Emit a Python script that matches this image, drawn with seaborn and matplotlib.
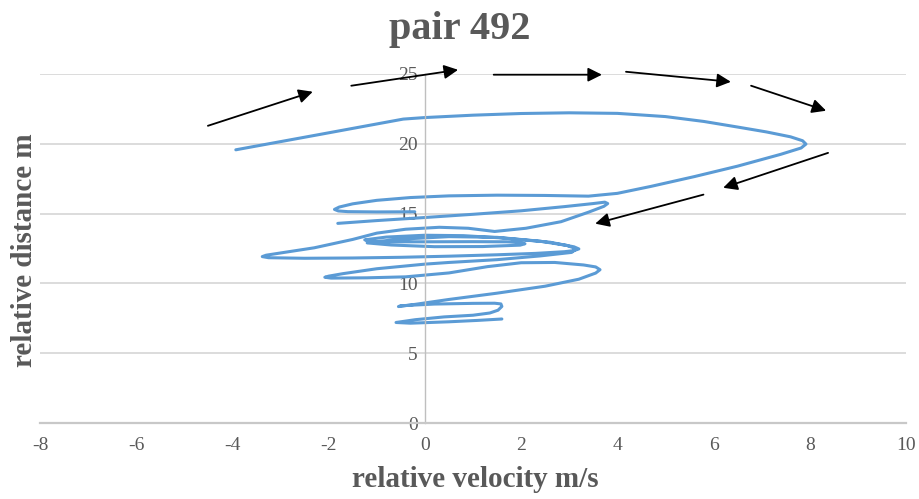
import matplotlib
matplotlib.use("Agg")
import matplotlib.pyplot as plt
import numpy as np
import pandas as pd
import seaborn as sns

# Relative velocity (m/s) and relative distance (m) of the vehicle pair,
# in time order. The trajectory is stored as two traced strokes.
velocity_a = [-3.93, -2.2, -0.45, 0.0, 1.0, 2.0, 3.0, 4.0, 5.0, 5.8, 6.5, 7.1, 7.6,
              7.85, 7.92, 7.82, 7.4, 6.5, 5.6, 4.7, 4.0, 3.4, 2.5, 1.5, 0.5, -0.3,
              -1.0, -1.5, -1.78, -1.88, -1.8, -1.6, -1.0, -0.21]
distance_a = [19.57, 20.66, 21.77, 21.88, 22.05, 22.17, 22.22, 22.18, 21.95, 21.6,
              21.2, 20.85, 20.5, 20.22, 19.98, 19.7, 19.25, 18.4, 17.65, 16.95, 16.45,
              16.25, 16.3, 16.32, 16.27, 16.15, 15.95, 15.7, 15.47, 15.3, 15.19,
              15.14, 15.12, 15.13]

velocity_b = [-1.81, -1.0, 0.0, 1.0, 2.0, 2.9, 3.5, 3.74, 3.8, 3.72, 3.4, 2.83, 2.1,
              1.45, 0.9, 0.3, -0.4, -1.0, -1.5, -2.3, -3.0, -3.3, -3.38, -3.25,
              -2.5, -1.5, -0.5, 0.5, 1.5, 2.3, 2.9, 3.1, 3.2, 3.1, 2.6, 1.58, 0.8,
              0.0, -0.8, -1.25, -1.1, 0.0, 1.0, 1.7, 1.98, 2.08, 1.98, 1.2, 0.2,
              -0.7, -1.2, -0.6, 0.5, 1.5, 2.4, 2.95, 3.15, 3.05, 2.4, 1.5, 0.5, 0.0,
              -1.0, -1.7, -2.0, -2.08, -1.95, -1.2, -0.4, 0.5, 1.3, 2.0, 2.7, 3.3,
              3.55, 3.64, 3.55, 3.2, 2.5, 1.5, 0.5, -0.2, -0.55, -0.5, 0.2, 1.0,
              1.45, 1.58, 1.6, 1.52, 1.35, 1.0, 0.4, -0.2, -0.6, -0.3, 0.5, 1.1, 1.6]
distance_b = [14.3, 14.5, 14.72, 14.95, 15.2, 15.5, 15.72, 15.82, 15.72, 15.52, 15.1,
              14.42, 13.95, 13.72, 13.95, 14.02, 13.88, 13.6, 13.15, 12.55, 12.18,
              12.02, 11.92, 11.84, 11.8, 11.82, 11.87, 11.95, 12.05, 12.15, 12.27,
              12.35, 12.47, 12.62, 12.95, 13.26, 13.42, 13.45, 13.32, 13.12, 12.98,
              12.98, 12.99, 12.98, 12.93, 12.84, 12.74, 12.64, 12.63, 12.75, 12.9,
              13.15, 13.35, 13.3, 13.02, 12.72, 12.48, 12.22, 11.97, 11.7, 11.5,
              11.38, 11.05, 10.7, 10.52, 10.44, 10.38, 10.4, 10.47, 10.75, 11.2,
              11.48, 11.5, 11.32, 11.18, 10.98, 10.74, 10.3, 9.8, 9.3, 8.85, 8.5,
              8.34, 8.4, 8.52, 8.57, 8.58, 8.53, 8.35, 8.08, 7.88, 7.72, 7.6, 7.4,
              7.2, 7.15, 7.25, 7.35, 7.45]

# Direction arrows drawn around the trajectory: (v0, d0) -> (v1, d1)
arrow_tail_v = [-4.51, -1.53, 1.43, 4.18, 6.78, 8.38, 5.79]
arrow_tail_d = [21.29, 24.16, 24.95, 25.16, 24.16, 19.35, 16.36]
arrow_head_v = [-2.33, 0.69, 3.68, 6.36, 8.34, 6.2, 3.54]
arrow_head_d = [23.73, 25.3, 24.95, 24.44, 22.37, 16.85, 14.28]

x_ticks = [-8, -6, -4, -2, 0, 2, 4, 6, 8, 10]
y_ticks = [0, 5, 10, 15, 20, 25]

traj = pd.DataFrame({
    "v": velocity_a + velocity_b,
    "d": distance_a + distance_b,
    "stroke": [0] * len(velocity_a) + [1] * len(velocity_b),
})

sns.set_theme(style="white")
plt.rcParams["font.family"] = ["Liberation Serif", "DejaVu Serif"]

text_grey = "#595959"
fig = plt.figure(figsize=(9.19, 4.99), dpi=100)
ax = fig.add_axes([40 / 919, 76 / 499, 866 / 919, 349 / 499])

line_kw = dict(solid_joinstyle="round", solid_capstyle="round")
sns.lineplot(data=traj, x="v", y="d", units="stroke", estimator=None, sort=False,
             color="#5B9BD5", lw=2.2, ax=ax, legend=False, **line_kw)

for tv, td, hv, hd in zip(arrow_tail_v, arrow_tail_d, arrow_head_v, arrow_head_d):
    ax.annotate("", xy=(hv, hd), xytext=(tv, td), annotation_clip=False,
                arrowprops=dict(arrowstyle="-|>", color="black", lw=1.3,
                                mutation_scale=21, shrinkA=0, shrinkB=0))

ax.set_xlim(-8, 10)
ax.set_ylim(0, 25)
ax.set_xticks(x_ticks)
ax.set_yticks(y_ticks)
ax.set_xticklabels([str(t) for t in x_ticks])
ax.set_yticklabels([str(t) for t in y_ticks])

ax.yaxis.grid(True, color="#d9d9d9", lw=1.3)
ax.xaxis.grid(False)
ax.set_axisbelow(True)

for side in ("top", "right"):
    ax.spines[side].set_visible(False)
ax.spines["left"].set_position(("data", 0))
ax.spines["left"].set_color("#bfbfbf")
ax.spines["left"].set_linewidth(1.0)
ax.spines["bottom"].set_color("#c8c8c8")
ax.spines["bottom"].set_linewidth(1.6)

ax.tick_params(axis="both", length=0, labelsize=14, labelcolor=text_grey)
ax.tick_params(axis="x", pad=10)
ax.tick_params(axis="y", pad=5)

ax.set_xlabel("")
ax.set_ylabel("")

fig.text(0.5, 1 - 39.5 / 499, "pair 492", ha="center", va="baseline",
         fontsize=29, fontweight="bold", color=text_grey)
fig.text(475 / 919, 1 - 487 / 499, "relative velocity m/s", ha="center",
         va="baseline", fontsize=21, fontweight="bold", color=text_grey)
fig.text(25 / 919, 1 - 250 / 499, "relative distance m", ha="center", va="center",
         rotation=90, fontsize=21, fontweight="bold", color=text_grey)

fig.savefig("out.png", dpi=100, facecolor="white")
